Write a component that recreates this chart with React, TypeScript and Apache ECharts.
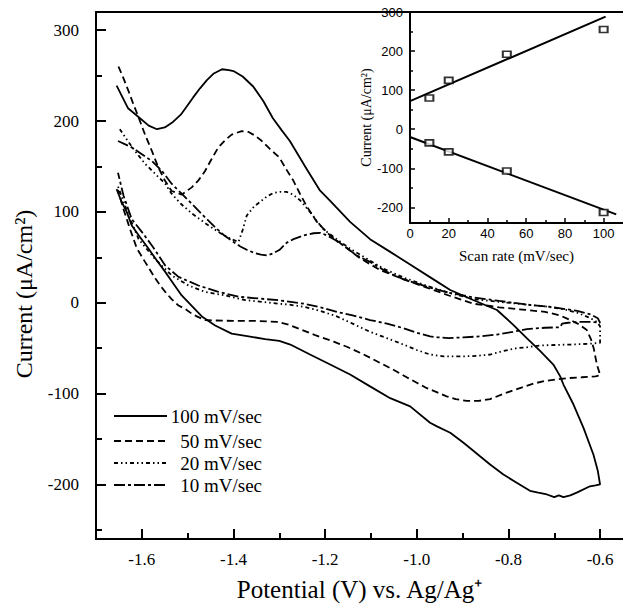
import React, { useEffect, useRef } from "react";
import * as echarts from "echarts";

// ---- Main CV curves: [potential (V), current (uA/cm2)] in scan order ----
const cv100: [number, number][] = [
  [-1.655, 239], [-1.63, 214], [-1.604, 203], [-1.585, 195], [-1.567, 191], [-1.55, 193], [-1.532, 199],
  [-1.515, 207], [-1.502, 216], [-1.488, 226], [-1.473, 236], [-1.458, 245], [-1.444, 252], [-1.425, 257],
  [-1.41, 256], [-1.4, 255], [-1.38, 249], [-1.357, 238], [-1.335, 222], [-1.314, 203], [-1.295, 190],
  [-1.277, 178], [-1.258, 162], [-1.24, 147], [-1.212, 124], [-1.189, 112], [-1.1455, 89], [-1.102, 70],
  [-1.058, 56], [-1.0145, 42], [-0.9645, 26], [-0.927, 14], [-0.877, 3], [-0.825, -8], [-0.79, -24],
  [-0.76, -39], [-0.731, -53], [-0.702, -68], [-0.687, -81], [-0.68, -90], [-0.658, -112], [-0.636, -138],
  [-0.6146, -167], [-0.605, -185], [-0.6, -200],
  [-0.61, -201], [-0.622, -202], [-0.651, -209], [-0.665, -212], [-0.68, -214], [-0.69, -212], [-0.7, -214],
  [-0.716, -211], [-0.735, -209], [-0.753, -207], [-0.782, -198], [-0.811, -189], [-0.84, -178], [-0.862, -169],
  [-0.898, -154], [-0.927, -143], [-0.956, -136], [-0.971, -132], [-1.0145, -114], [-1.058, -105], [-1.102, -92],
  [-1.1455, -79], [-1.189, -68], [-1.233, -57], [-1.276, -46], [-1.3, -42], [-1.331, -40], [-1.367, -37],
  [-1.404, -34], [-1.44, -25], [-1.469, -15], [-1.49, -4], [-1.513, 8], [-1.531, 21], [-1.549, 34],
  [-1.568, 47], [-1.586, 60], [-1.605, 73], [-1.622, 85], [-1.633, 100], [-1.645, 112], [-1.655, 125],
];

const cv50: [number, number][] = [
  [-1.651, 260], [-1.64, 247], [-1.629, 233], [-1.618, 218], [-1.607, 204], [-1.593, 185], [-1.578, 167],
  [-1.564, 149], [-1.549, 134], [-1.535, 123], [-1.513, 119], [-1.491, 127], [-1.476, 135], [-1.462, 145],
  [-1.448, 158], [-1.433, 171], [-1.418, 179], [-1.404, 185], [-1.382, 189], [-1.367, 188], [-1.353, 184],
  [-1.338, 178], [-1.32, 169], [-1.3, 160], [-1.285, 147], [-1.27, 135], [-1.255, 120], [-1.24, 106],
  [-1.218, 89], [-1.189, 74], [-1.16, 63], [-1.124, 49], [-1.08, 36], [-1.03, 26], [-0.98, 17], [-0.93, 8],
  [-0.877, -1], [-0.82, -5], [-0.76, -8], [-0.72, -10], [-0.687, -14], [-0.665, -19], [-0.645, -24],
  [-0.629, -30], [-0.62, -40], [-0.614, -50], [-0.607, -68], [-0.602, -76], [-0.6, -80],
  [-0.61, -81], [-0.64, -82], [-0.673, -83], [-0.72, -86], [-0.7455, -89], [-0.775, -94], [-0.804, -99],
  [-0.84, -106], [-0.865, -108], [-0.891, -108], [-0.915, -106], [-0.935, -103], [-0.958, -98], [-0.978, -94],
  [-1.0, -88], [-1.022, -82], [-1.05, -74], [-1.073, -68], [-1.1, -61], [-1.124, -55], [-1.15, -49],
  [-1.18, -43], [-1.22, -36], [-1.255, -29], [-1.28, -24], [-1.305, -21], [-1.35, -20], [-1.4, -20],
  [-1.44, -19.5], [-1.462, -19], [-1.48, -15], [-1.491, -12], [-1.505, -7], [-1.52, -3], [-1.535, 4],
  [-1.549, 12], [-1.56, 19], [-1.571, 27], [-1.582, 36], [-1.593, 45], [-1.611, 60], [-1.625, 80],
  [-1.64, 103], [-1.652, 124],
];

const cv20: [number, number][] = [
  [-1.648, 191], [-1.636, 182], [-1.615, 167], [-1.593, 153], [-1.571, 142], [-1.549, 131], [-1.535, 120],
  [-1.515, 109], [-1.49, 98], [-1.46, 87], [-1.43, 77], [-1.405, 70], [-1.389, 67], [-1.38, 80],
  [-1.371, 96], [-1.355, 106], [-1.342, 111], [-1.327, 117], [-1.312, 121], [-1.298, 122], [-1.284, 122],
  [-1.27, 119], [-1.255, 113], [-1.233, 100], [-1.218, 90], [-1.204, 81], [-1.175, 70], [-1.1455, 59.5],
  [-1.109, 48.5], [-1.073, 37.6], [-1.03, 28], [-0.98, 19], [-0.93, 11], [-0.877, 4], [-0.82, 1],
  [-0.76, -2], [-0.72, -4], [-0.68, -7], [-0.65, -11], [-0.625, -16], [-0.607, -21], [-0.6, -26],
  [-0.6, -36], [-0.6, -44],
  [-0.62, -45], [-0.665, -46], [-0.7, -46.5], [-0.731, -47], [-0.76, -49], [-0.782, -50], [-0.81, -53],
  [-0.84, -57], [-0.87, -58.5], [-0.898, -59], [-0.942, -59], [-0.971, -57], [-1.0, -52], [-1.029, -46],
  [-1.065, -39], [-1.102, -32], [-1.14, -23], [-1.1745, -15], [-1.21, -9], [-1.247, -4.4], [-1.28, -2],
  [-1.302, -1], [-1.3746, 3], [-1.418, 8], [-1.462, 12], [-1.498, 19], [-1.5345, 30], [-1.571, 48],
  [-1.607, 70], [-1.63, 98], [-1.652, 128],
];

const cv10: [number, number][] = [
  [-1.652, 178], [-1.622, 171], [-1.6, 163.5], [-1.578, 156], [-1.556, 145], [-1.535, 131], [-1.513, 120],
  [-1.491, 109], [-1.462, 94], [-1.44, 83], [-1.42, 74], [-1.4, 67], [-1.385, 62], [-1.37, 58],
  [-1.355, 55], [-1.34, 53], [-1.327, 52], [-1.315, 54], [-1.3, 58], [-1.284, 66], [-1.269, 70],
  [-1.2474, 74], [-1.2255, 76.5], [-1.21, 77], [-1.196, 74], [-1.178, 69], [-1.16, 63], [-1.131, 52],
  [-1.102, 45], [-1.0655, 34], [-1.03, 26], [-0.98, 18], [-0.93, 11], [-0.877, 6], [-0.82, 2],
  [-0.76, -2], [-0.7, -5], [-0.65, -9], [-0.62, -13], [-0.605, -17], [-0.6, -22],
  [-0.62, -21], [-0.645, -21], [-0.67, -22], [-0.683, -23], [-0.687, -27], [-0.72, -27.5], [-0.76, -29],
  [-0.79, -32], [-0.825, -35], [-0.86, -37], [-0.898, -38], [-0.93, -39], [-0.955, -38], [-0.971, -37],
  [-1.0, -33], [-1.029, -28], [-1.065, -23], [-1.102, -19], [-1.14, -14], [-1.1745, -10], [-1.21, -5],
  [-1.247, -1], [-1.302, 2.8], [-1.3456, 4.7], [-1.389, 6.6], [-1.433, 12], [-1.4765, 19], [-1.52, 28.5],
  [-1.549, 41], [-1.578, 63], [-1.6, 78], [-1.622, 92], [-1.64, 118], [-1.652, 143],
];

// ---- Inset: peak current vs scan rate ----
const scanRate = [10, 20, 50, 100];
const anodicPeak = [80, 125, 192, 255];
const cathodicPeak = [-35, -58, -107, -213];
const anodicFit: [number, number][] = [[0, 72], [101, 288]];
const cathodicFit: [number, number][] = [[0, -20], [106.5, -218]];

// ---- Tick values ----
const mainXTicks = [-1.6, -1.4, -1.2, -1.0, -0.8, -0.6];
const mainXMinor = [-1.5, -1.3, -1.1, -0.9, -0.7];
const mainYTicks = [-200, -100, 0, 100, 200, 300];
const mainYMinor = [-250, -150, -50, 50, 150, 250];
const insetXTicks = [0, 20, 40, 60, 80, 100];
const insetXMinor = [10, 30, 50, 70, 90];
const insetYTicks = [-200, -100, 0, 100, 200, 300];
const insetYMinor = [-150, -50, 50, 150, 250];

const seriesNames = ["100 mV/sec", "50 mV/sec", "20 mV/sec", "10 mV/sec"];
const mainYTitle = "Current (\u03BCA/cm\u00B2)";

const SERIF = '"Liberation Serif", "Times New Roman", serif';
const SANS = '"Liberation Sans", Arial, sans-serif';

const dashes: (number[] | "solid")[] = ["solid", [7, 4], [4, 3, 1.5, 3, 1.5, 3], [11, 3, 3, 3]];

export default function App() {
  const ref = useRef<HTMLDivElement>(null);
  useEffect(() => {
    const chart = echarts.init(ref.current!, null, { renderer: "svg" });
    const black = "#000";
    const majorAxis = (extra: any) => ({
      type: "value",
      splitLine: { show: false },
      axisLine: { show: true, onZero: false, lineStyle: { color: black, width: 2 } },
      ...extra,
    });
    const minorAxis = (extra: any, values: number[], len: number, w: number) => ({
      type: "value",
      splitLine: { show: false },
      axisLine: { show: false, onZero: false },
      axisLabel: { show: false },
      axisTick: { show: true, inside: true, length: len, customValues: values, lineStyle: { color: black, width: w } },
      ...extra,
    });
    const curves = [cv100, cv50, cv20, cv10];
    const legendRows = [416, 441, 463, 485];

    const option: any = {
      animation: false,
      backgroundColor: "#fff",
      grid: [
        { left: 96, top: 12, width: 527, height: 529 },
        { left: 410, top: 12, width: 213, height: 211 },
      ],
      xAxis: [
        majorAxis({
          gridIndex: 0, position: "bottom", min: -1.7, max: -0.55,
          axisTick: { show: true, inside: true, length: 10, customValues: mainXTicks, lineStyle: { color: black, width: 2 } },
          axisLabel: {
            customValues: mainXTicks, formatter: (v: number) => v.toFixed(1),
            fontFamily: SERIF, fontSize: 17, color: black, margin: 12,
          },
          name: "Potential (V) vs. Ag/Ag\u207A", nameLocation: "middle", nameGap: 38,
          nameTextStyle: { fontFamily: SERIF, fontSize: 25, color: black },
        }),
        minorAxis({ gridIndex: 0, position: "bottom", min: -1.7, max: -0.55 }, mainXMinor, 6, 2),
        majorAxis({
          gridIndex: 0, position: "top", min: -1.7, max: -0.55,
          axisTick: { show: false }, axisLabel: { show: false },
        }),
        majorAxis({
          gridIndex: 1, position: "bottom", min: 0, max: 110,
          axisTick: { show: true, inside: true, length: 5, customValues: insetXTicks, lineStyle: { color: black, width: 1.5 } },
          axisLabel: { customValues: insetXTicks, fontFamily: SANS, fontSize: 13, color: black, margin: 4 },
          name: "Scan rate (mV/sec)", nameLocation: "middle", nameGap: 25,
          nameTextStyle: { fontFamily: SERIF, fontSize: 15, color: black },
        }),
        minorAxis({ gridIndex: 1, position: "bottom", min: 0, max: 110 }, insetXMinor, 3, 1.5),
      ],
      yAxis: [
        majorAxis({
          gridIndex: 0, position: "left", min: -260, max: 320,
          axisTick: { show: true, inside: true, length: 10, customValues: mainYTicks, lineStyle: { color: black, width: 2 } },
          axisLabel: { customValues: mainYTicks, fontFamily: SERIF, fontSize: 17, color: black, margin: 17 },
        }),
        minorAxis({ gridIndex: 0, position: "left", min: -260, max: 320 }, mainYMinor, 6, 2),
        majorAxis({
          gridIndex: 1, position: "left", min: -240, max: 300,
          axisTick: { show: true, inside: true, length: 5, customValues: insetYTicks, lineStyle: { color: black, width: 1.5 } },
          axisLabel: { customValues: insetYTicks, fontFamily: SANS, fontSize: 13, color: black, margin: 7 },
          name: "Current (\u03BCA/cm\u00B2)", nameLocation: "middle", nameGap: 36, nameRotate: 90,
          nameTextStyle: { fontFamily: SERIF, fontSize: 14, color: black },
        }),
        minorAxis({ gridIndex: 1, position: "left", min: -240, max: 300 }, insetYMinor, 3, 1.5),
      ],
      series: [
        ...curves.map((d, i) => ({
          name: seriesNames[i], type: "line", xAxisIndex: 0, yAxisIndex: 0,
          data: d, symbol: "none", showSymbol: false, smooth: false,
          lineStyle: { color: black, width: 1.8, type: dashes[i] },
        })),
        {
          name: "Anodic fit", type: "line", xAxisIndex: 3, yAxisIndex: 2, data: anodicFit,
          symbol: "none", lineStyle: { color: black, width: 2 },
        },
        {
          name: "Cathodic fit", type: "line", xAxisIndex: 3, yAxisIndex: 2, data: cathodicFit,
          symbol: "none", lineStyle: { color: black, width: 2 },
        },
        {
          name: "Anodic peak", type: "scatter", xAxisIndex: 3, yAxisIndex: 2,
          data: scanRate.map((x, i) => [x, anodicPeak[i]]),
          symbol: "rect", symbolSize: [8, 6], z: 5,
          itemStyle: { color: "#fff", borderColor: black, borderWidth: 1.8 },
        },
        {
          name: "Cathodic peak", type: "scatter", xAxisIndex: 3, yAxisIndex: 2,
          data: scanRate.map((x, i) => [x, cathodicPeak[i]]),
          symbol: "rect", symbolSize: [8, 6], z: 5,
          itemStyle: { color: "#fff", borderColor: black, borderWidth: 1.8 },
        },
      ],
      graphic: [
        {
          type: "text", x: 24, y: 294, rotation: Math.PI / 2,
          style: {
            text: mainYTitle, x: 0, y: 0, fill: black,
            fontFamily: SERIF, fontSize: 24, align: "center", verticalAlign: "middle",
          },
        },
        ...seriesNames.flatMap((name, i) => [
          {
            type: "line",
            shape: { x1: 114, y1: legendRows[i], x2: 167, y2: legendRows[i] },
            style: { stroke: black, lineWidth: 1.8, lineDash: dashes[i] === "solid" ? null : dashes[i] },
          },
          {
            type: "text",
            style: {
              text: name, x: 262, y: legendRows[i], fill: black,
              fontFamily: SERIF, fontSize: 19, align: "right", verticalAlign: "middle",
            },
          },
        ]),
      ],
    };
    chart.setOption(option);
    return () => chart.dispose();
  }, []);
  return (
    <div
      ref={ref}
      style={{ position: "absolute", left: 0, top: 0, width: 623, height: 607, background: "#fff" }}
    />
  );
}
